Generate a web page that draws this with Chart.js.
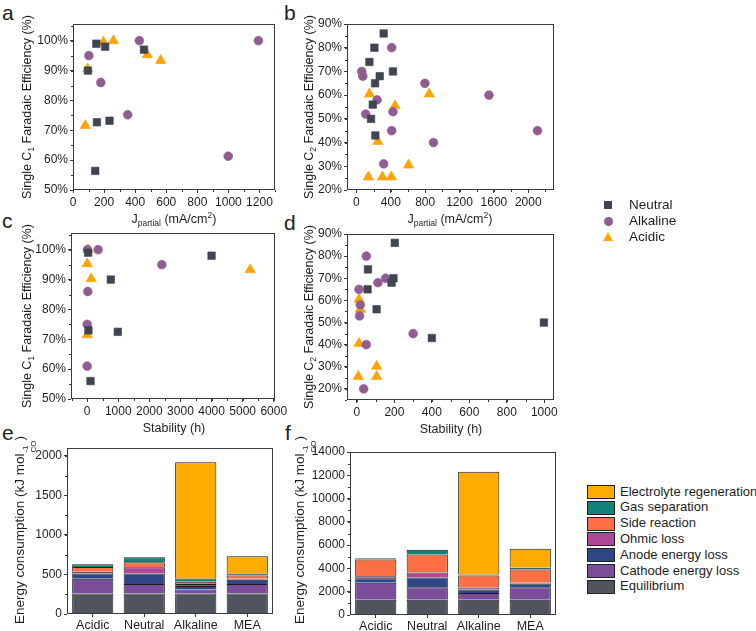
<!DOCTYPE html>
<html>
<head>
<meta charset="utf-8">
<script src="https://cdn.jsdelivr.net/npm/chart.js@4.4.0/dist/chart.umd.min.js"></script>
<style>
body { margin: 0; background: #fff; width: 756px; height: 631px; position: relative; overflow: hidden;
       font-family: "Liberation Sans", Arial, sans-serif; color: #1e1e1e; }
canvas { position: absolute; }
.t { position: absolute; white-space: nowrap; font-size: 12.5px; line-height: 14px; transform: translate(-50%, -50%); }
.ty { transform: translate(-50%, -50%) rotate(-90deg); }
.big { font-size: 13.5px; }
.t sub { font-size: 8.5px; vertical-align: -3px; line-height: 0; }
.t sup { font-size: 8.5px; vertical-align: 5px; line-height: 0; }
.ss { display: inline-flex; flex-direction: column; font-size: 8px; line-height: 8px; vertical-align: -4px; margin-left: 1px; }
.lab { position: absolute; font-size: 21px; line-height: 21px; }
.lg { position: absolute; font-size: 13px; line-height: 14px; white-space: nowrap; }
.sw { position: absolute; width: 26px; height: 12px; border: 1px solid #222; }
</style>
</head>
<body>

<div class="lab" style="left:2px;top:2px">a</div>
<div class="lab" style="left:284px;top:2px">b</div>
<div class="lab" style="left:2px;top:210px">c</div>
<div class="lab" style="left:284px;top:212px">d</div>
<div class="lab" style="left:2px;top:422px">e</div>
<div class="lab" style="left:285px;top:422px">f</div>

<canvas id="chartA"></canvas>
<canvas id="chartB"></canvas>
<canvas id="chartC"></canvas>
<canvas id="chartD"></canvas>
<canvas id="chartE"></canvas>
<canvas id="chartF"></canvas>

<div class="t ty" style="left:27px;top:107px">Single C<sub>1</sub> Faradaic Efficiency (%)</div>
<div class="t ty" style="left:309px;top:107px">Single C<sub>2</sub> Faradaic Efficiency (%)</div>
<div class="t ty" style="left:27px;top:316px">Single C<sub>1</sub> Faradaic Efficiency (%)</div>
<div class="t ty" style="left:309px;top:317px">Single C<sub>2</sub> Faradaic Efficiency (%)</div>
<div class="t ty big" style="left:25px;top:530px">Energy consumption (kJ mol<span class="ss"><span>-1</span><span>CO</span></span>)</div>
<div class="t ty big" style="left:305px;top:530px">Energy consumption (kJ mol<span class="ss"><span>-1</span><span>CO</span></span>)</div>

<div class="t" style="left:174px;top:219px">J<sub>partial</sub> (mA/cm<sup>2</sup>)</div>
<div class="t" style="left:450px;top:219px">J<sub>partial</sub> (mA/cm<sup>2</sup>)</div>
<div class="t" style="left:174px;top:428px">Stability (h)</div>
<div class="t" style="left:451px;top:429px">Stability (h)</div>

<div id="scatterLegend"></div>
<div id="barLegend"></div>

<script>
// ---- scatter data: [x, y] pairs ----
const aNeutral  = [[150, 99], [207, 98], [96, 90], [154, 72.7], [235, 73.2], [143, 56.4], [457, 97]];
const aAlkaline = [[102, 95], [179, 86], [352, 75.2], [427, 100], [999, 61.3], [1193, 100]];
const aAcidic   = [[94, 90.5], [196, 99.5], [260, 100], [478, 95.3], [564, 93.4], [79, 71.6]];

const bNeutral  = [[317, 86], [209, 80], [151, 74], [425, 70], [271, 68], [217, 65], [190, 56], [170, 50], [220, 43]];
const bAlkaline = [[62, 70], [74, 68], [410, 80], [797, 65], [1543, 60], [240, 58], [108, 52], [425, 53],
                   [410, 45], [897, 40], [2108, 45], [317, 31]];
const bAcidic   = [[151, 60.5], [847, 60.5], [449, 55.5], [248, 40.5], [607, 30.5], [139, 25.5], [302, 25.5], [406, 25.5]];

const cNeutral  = [[30, 99], [760, 90], [4000, 98], [985, 72.5], [40, 73], [107, 56]];
const cAlkaline = [[10, 100], [353, 100], [2400, 95], [20, 86], [0, 75], [0, 61]];
const cAcidic   = [[30, 100], [0, 95.3], [128, 90.3], [0, 71.5], [5240, 93.3]];

const dNeutral  = [[202, 86], [59, 74], [195, 70], [185, 68], [57, 65], [105, 56], [400, 43], [998, 50]];
const dAlkaline = [[50, 80], [11, 65], [18, 58], [14, 53], [112, 68], [153, 70], [50, 40], [300, 45], [36, 20]];
const dAcidic   = [[11, 60.5], [18, 56], [11, 40.5], [105, 30.2], [105, 25.6], [7, 25.6]];

// ---- tick labels ----
const aXTicks = [0, 200, 400, 600, 800, 1000, 1200];
const bXTicks = [0, 400, 800, 1200, 1600, 2000];
const cXTicks = [0, 1000, 2000, 3000, 4000, 5000, 6000];
const dXTicks = [0, 200, 400, 600, 800, 1000];
const c1Ticks = [50, 60, 70, 80, 90, 100];
const c2Ticks = [20, 30, 40, 50, 60, 70, 80, 90];
const eYTicks = [0, 500, 1000, 1500, 2000];
const fYTicks = [0, 2000, 4000, 6000, 8000, 10000, 12000, 14000];

// ---- stacked bar data (kJ mol-1 CO) ----
const electrolytes = ['Acidic', 'Neutral', 'Alkaline', 'MEA'];
const parts = ['Equilibrium', 'Cathode energy loss', 'Anode energy loss', 'Ohmic loss',
               'Side reaction', 'Gas separation', 'Electrolyte regeneration'];

const eEquilibrium = [260, 260, 260, 260];
const eCathode     = [185, 118, 51, 118];
const eAnode       = [67, 134, 42, 55];
const eOhmic       = [21, 80, 25, 12];
const eSide        = [63, 63, 29, 42];
const eGas         = [34, 63, 42, 25];
const eRegen       = [0, 0, 1470, 219];

const fEquilibrium = [1320, 1320, 1320, 1320];
const fCathode     = [1440, 1060, 580, 1060];
const fAnode       = [400, 840, 290, 320];
const fOhmic       = [170, 430, 170, 60];
const fSide        = [1440, 1550, 1030, 1150];
const fGas         = [110, 400, 90, 140];
const fRegen       = [0, 0, 8820, 1640];

// ---- styles ----
const FONT = '"Liberation Sans", Arial, sans-serif';
const NEUTRAL = '#3f4551', ALKALINE = '#905d91', ACIDIC = '#ffa300';
const partColors = ['#50545d', '#7a4d9a', '#2f4885', '#b0489a', '#fd6f45', '#128277', '#ffab00'];
const AXIS = '#3a3a3a';

const L = 55, T = 10, R = 15, B = 30;

function place(id, x0, y0, x1, y1) {
    const c = document.getElementById(id);
    c.width = x1 - x0 + L + R;
    c.height = y1 - y0 + T + B;
    c.style.left = (x0 - L) + 'px';
    c.style.top = (y0 - T) + 'px';
    return c;
}

// frame on all four sides + small minor ticks
const boxTicks = {
    id: 'boxTicks',
    afterDraw(chart, args, o) {
        const { ctx, chartArea: a, scales: { x, y } } = chart;
        ctx.save();
        ctx.strokeStyle = AXIS;
        ctx.lineWidth = 1;
        ctx.strokeRect(a.left + 0.5, a.top + 0.5, a.width - 1, a.height - 1);
        ctx.beginPath();
        if (o.minorX) {
            for (let v = Math.ceil(x.min / o.minorX) * o.minorX; v <= x.max; v += o.minorX) {
                const px = Math.round(x.getPixelForValue(v)) + 0.5;
                ctx.moveTo(px, a.bottom);
                ctx.lineTo(px, a.bottom + 2);
            }
        }
        if (o.minorY) {
            for (let v = Math.ceil(y.min / o.minorY) * o.minorY; v <= y.max; v += o.minorY) {
                const py = Math.round(y.getPixelForValue(v)) + 0.5;
                ctx.moveTo(a.left, py);
                ctx.lineTo(a.left - 2, py);
            }
        }
        ctx.stroke();
        ctx.restore();
    }
};

function axis(min, max, tickList, fmt, isY) {
    return {
        type: 'linear', min: min, max: max,
        grid: { display: true, drawOnChartArea: false, drawTicks: true, tickLength: 3, color: AXIS },
        border: { display: false },
        ticks: { autoSkip: false, maxRotation: 0, padding: 2,
                 color: '#1e1e1e', font: { family: FONT, size: 12 }, callback: fmt },
        afterBuildTicks: s => { s.ticks = tickList.map(v => ({ value: v })); },
        afterFit: isY
            ? s => { s.width = L; s.paddingTop = 0; s.paddingBottom = 0; }
            : s => { s.height = B; s.paddingLeft = 0; s.paddingRight = 0; }
    };
}

const pct = v => v + '%';
const plain = v => String(v);
const pts = arr => arr.map(p => ({ x: p[0], y: p[1] }));

function scatter(id, rect, neutral, alkaline, acidic, xr, yr) {
    new Chart(place(id, ...rect), {
        type: 'scatter',
        data: {
            datasets: [
                { label: 'Neutral', data: pts(neutral), pointStyle: 'rect', pointRadius: 5.3,
                  backgroundColor: NEUTRAL, borderColor: NEUTRAL, borderWidth: 0.6 },
                { label: 'Alkaline', data: pts(alkaline), pointStyle: 'circle', pointRadius: 4.4,
                  backgroundColor: ALKALINE, borderColor: ALKALINE, borderWidth: 0.6 },
                { label: 'Acidic', data: pts(acidic), pointStyle: 'triangle', pointRadius: 6,
                  backgroundColor: ACIDIC, borderColor: ACIDIC, borderWidth: 0.6 }
            ]
        },
        options: {
            responsive: false, animation: false, events: [],
            layout: { padding: { top: T, right: R, left: 0, bottom: 0 } },
            scales: {
                x: axis(xr[0], xr[1], xr[2], plain, false),
                y: axis(yr[0], yr[1], yr[2], pct, true)
            },
            plugins: { legend: { display: false }, tooltip: { enabled: false },
                       boxTicks: { minorX: xr[3], minorY: yr[3] } }
        },
        plugins: [boxTicks]
    });
}

scatter('chartA', [73, 24, 275, 190], aNeutral, aAlkaline, aAcidic, [0, 1300, aXTicks, 100], [50, 105.6, c1Ticks, 5]);
scatter('chartB', [347, 24, 554, 190], bNeutral, bAlkaline, bAcidic, [-110, 2300, bXTicks, 200], [20, 90, c2Ticks, 5]);
scatter('chartC', [71, 233, 275, 399], cNeutral, cAlkaline, cAcidic, [-520, 6040, cXTicks, 500], [50, 105.6, c1Ticks, 5]);
scatter('chartD', [347, 234, 554, 400], dNeutral, dAlkaline, dAcidic, [-53, 1052, dXTicks, 100], [15, 90, c2Ticks, 5]);

function bars(id, rect, series, yMax, tickList, minor) {
    const yAxis = axis(0, yMax, tickList, plain, true);
    yAxis.stacked = true;
    new Chart(place(id, ...rect), {
        type: 'bar',
        data: {
            labels: electrolytes,
            datasets: series.map((vals, i) => ({
                label: parts[i], data: vals, backgroundColor: partColors[i],
                borderColor: '#1c1c1c', borderWidth: { top: 1, left: 1, right: 1, bottom: 0 },
                borderSkipped: false, barPercentage: 0.8, categoryPercentage: 1
            }))
        },
        options: {
            responsive: false, animation: false, events: [],
            layout: { padding: { top: T, right: R, left: 0, bottom: 0 } },
            scales: {
                x: {
                    type: 'category', stacked: true, offset: true,
                    grid: { display: true, offset: false, drawOnChartArea: false, tickLength: 3, color: AXIS },
                    border: { display: false },
                    ticks: { padding: 1, color: '#1e1e1e', font: { family: FONT, size: 12.5 } },
                    afterFit: s => { s.height = B; s.paddingLeft = 0; s.paddingRight = 0; }
                },
                y: yAxis
            },
            plugins: { legend: { display: false }, tooltip: { enabled: false },
                       boxTicks: { minorY: minor } }
        },
        plugins: [boxTicks]
    });
}

bars('chartE', [67, 448, 273, 614],
     [eEquilibrium, eCathode, eAnode, eOhmic, eSide, eGas, eRegen], 2100, eYTicks, 250);
bars('chartF', [350, 452, 556, 615],
     [fEquilibrium, fCathode, fAnode, fOhmic, fSide, fGas, fRegen], 14000, fYTicks, 1000);

// ---- legends ----
const sl = document.getElementById('scatterLegend');
const marks = [
    ['Neutral', `width:8px;height:8px;background:${NEUTRAL};left:604px;top:201px`],
    ['Alkaline', `width:9px;height:9px;border-radius:50%;background:${ALKALINE};left:603.5px;top:216.5px`],
    ['Acidic', `width:0;height:0;border-left:5.5px solid transparent;border-right:5.5px solid transparent;border-bottom:9.5px solid ${ACIDIC};left:602.5px;top:232px`]
];
marks.forEach((m, i) => {
    sl.insertAdjacentHTML('beforeend',
        `<div style="position:absolute;${m[1]}"></div>` +
        `<div class="lg" style="left:629px;top:${198 + i * 16}px;font-size:13.5px">${m[0]}</div>`);
});

const bl = document.getElementById('barLegend');
for (let k = 0; k < parts.length; k++) {
    const i = parts.length - 1 - k;
    const cy = 492 + k * 15.8;
    bl.insertAdjacentHTML('beforeend',
        `<div class="sw" style="left:587px;top:${cy - 7}px;background:${partColors[i]}"></div>` +
        `<div class="lg" style="left:620px;top:${cy - 7.5}px">${parts[i]}</div>`);
}
</script>
</body>
</html>
